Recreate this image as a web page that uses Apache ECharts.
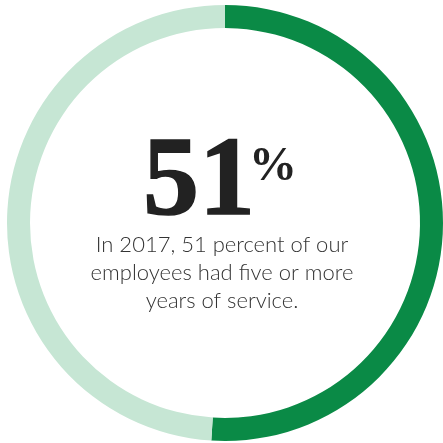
<!DOCTYPE html>
<html>
<head>
<meta charset="utf-8">
<script src="https://cdn.jsdelivr.net/npm/echarts@6/dist/echarts.min.js"></script>
<style>
  html, body { margin: 0; padding: 0; background: #fff; }
  #chart { width: 443px; height: 443px; }
</style>
</head>
<body>
<div id="chart"></div>
<script>
  // share of employees by years of service
  const categories = ['Five or more years', 'Less than five years'];
  const values = [51, 49];
  const colors = ['#0a8a46', '#c6e6d4'];
  const bigNumber = '51';
  const caption = ['In 2017, 51 percent of our', 'employees had five or more', 'years of service.'];

  const myChart = echarts.init(document.getElementById('chart'));

  myChart.setOption({
    animation: false,
    series: [{
      type: 'pie',
      center: [225, 223],
      radius: [195, 218],
      startAngle: 90,
      clockwise: true,
      silent: true,
      label: { show: false },
      labelLine: { show: false },
      data: categories.map((c, i) => ({
        name: c,
        value: values[i],
        itemStyle: { color: colors[i] }
      }))
    }],
    graphic: [
      {
        type: 'text',
        style: {
          x: 255,
          y: 185,
          text: bigNumber,
          font: 'bold 112px "Liberation Serif"',
          align: 'right',
          verticalAlign: 'middle',
          fill: '#222',
          stroke: '#222',
          lineWidth: 1.5
        }
      },
      {
        type: 'text',
        style: {
          x: 249,
          y: 168,
          text: '%',
          font: 'bold 48px "Liberation Serif"',
          align: 'left',
          verticalAlign: 'middle',
          fill: '#222'
        }
      },
      {
        type: 'text',
        style: {
          x: 222,
          y: 231,
          text: caption.join('\n'),
          font: '300 22px Lato',
          lineHeight: 28,
          align: 'center',
          verticalAlign: 'top',
          fill: '#333'
        }
      }
    ]
  });

  window.addEventListener('resize', () => {
    myChart && myChart.resize();
  });
</script>
</body>
</html>
